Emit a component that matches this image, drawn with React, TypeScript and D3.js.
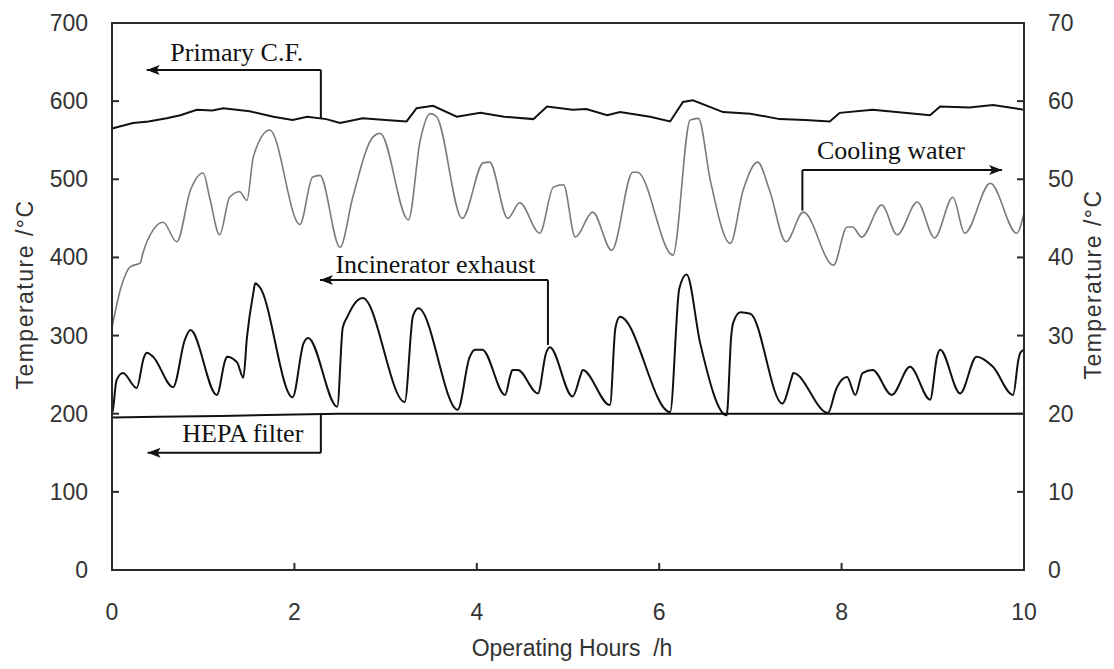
import React from 'react';
import * as d3 from 'd3';

// data (hours, °C)
const primaryHours = [0, 0.23, 0.4, 0.6, 0.75, 0.93, 1.1, 1.22, 1.51, 1.77, 1.98, 2.14, 2.35, 2.5, 2.75, 3.0, 3.23, 3.34, 3.52, 3.78, 4.04, 4.3, 4.62, 4.77, 5.05, 5.2, 5.43, 5.57, 5.9, 6.12, 6.26, 6.37, 6.7, 7.0, 7.32, 7.6, 7.87, 7.98, 8.34, 8.6, 8.97, 9.08, 9.4, 9.66, 10];
const primaryTemp = [565, 572, 574, 578, 582, 589, 588, 591, 587, 580, 576, 580, 577, 572, 578, 576, 574, 591, 594, 580, 585, 580, 577, 593, 589, 590, 582, 586, 580, 574, 599, 601, 586, 584, 577, 576, 574, 585, 589, 586, 582, 593, 592, 595, 589];

// cooling water is on the right axis (0-70)
const coolingHours = [0, 0.09, 0.2, 0.31, 0.34, 0.45, 0.56, 0.71, 0.86, 1.0, 1.07, 1.18, 1.29, 1.4, 1.48, 1.55, 1.73, 2.06, 2.2, 2.28, 2.5, 2.64, 2.86, 2.94, 3.25, 3.38, 3.49, 3.56, 3.84, 4.07, 4.14, 4.34, 4.47, 4.69, 4.84, 4.95, 5.08, 5.27, 5.48, 5.71, 5.76, 6.15, 6.34, 6.43, 6.56, 6.78, 6.92, 7.08, 7.21, 7.39, 7.58, 7.91, 8.06, 8.12, 8.22, 8.44, 8.61, 8.83, 9.02, 9.22, 9.35, 9.63, 9.92, 10];
const coolingTemp = [31, 35.8, 38.8, 39.3, 40.6, 43.5, 44.5, 42.0, 48.6, 50.8, 47.7, 42.9, 47.7, 48.4, 47.3, 52.9, 56.3, 44.2, 50.3, 50.5, 41.3, 47.7, 55.4, 55.9, 44.8, 55.0, 58.4, 58.0, 45.0, 52.1, 52.2, 45.0, 47.0, 43.1, 49.0, 49.3, 42.6, 45.8, 40.9, 50.9, 50.9, 40.3, 57.6, 57.8, 49.9, 41.8, 48.6, 52.2, 48.6, 42.0, 45.8, 39.0, 43.9, 43.9, 42.6, 46.7, 42.9, 47.1, 42.5, 47.7, 43.1, 49.5, 43.1, 45.7];

const exhaustHours = [0, 0.01, 0.05, 0.12, 0.27, 0.35, 0.38, 0.45, 0.67, 0.8, 0.86, 1.15, 1.24, 1.26, 1.37, 1.44, 1.48, 1.55, 1.57, 1.62, 1.98, 2.1, 2.15, 2.47, 2.53, 2.58, 2.69, 2.75, 3.21, 3.3, 3.36, 3.79, 3.92, 3.98, 4.06, 4.31, 4.37, 4.39, 4.45, 4.67, 4.76, 4.8, 5.05, 5.14, 5.16, 5.46, 5.52, 5.57, 6.12, 6.22, 6.3, 6.45, 6.74, 6.79, 6.81, 6.89, 7.0, 7.35, 7.45, 7.47, 7.85, 7.93, 7.95, 8.06, 8.15, 8.23, 8.34, 8.55, 8.75, 8.97, 9.05, 9.08, 9.3, 9.48, 9.66, 9.88, 9.94, 9.96, 10];
const exhaustTemp = [200, 205, 243, 252, 233, 272, 278, 273, 234, 295, 307, 224, 268, 273, 266, 246, 298, 355, 367, 362, 221, 290, 297, 209, 310, 324, 345, 348, 215, 325, 335, 205, 272, 282, 282, 224, 250, 256, 256, 226, 278, 285, 222, 250, 256, 211, 310, 324, 202, 360, 378, 290, 198, 300, 316, 330, 328, 213, 245, 252, 201, 228, 234, 247, 224, 252, 256, 224, 260, 218, 275, 282, 226, 273, 260, 224, 270, 278, 282];

const hepaHours = [0, 0.5, 1.2, 2.0, 2.5, 10];
const hepaTemp = [195, 196, 197, 199, 200, 200];

const xTicks = [0, 2, 4, 6, 8, 10];
const leftTicks = [0, 100, 200, 300, 400, 500, 600, 700];
const rightTicks = [0, 10, 20, 30, 40, 50, 60, 70];

const W = 1114;
const H = 669;
const margin = { top: 23, right: 90, bottom: 99, left: 112 };

const tickFont = '"Liberation Sans", Arial, sans-serif';
const noteFont = '"Liberation Serif", "Times New Roman", serif';
const ink = '#2a2a2a';

const App = () => {
  const x = d3.scaleLinear().domain([0, 10]).range([margin.left, W - margin.right]);
  const yL = d3.scaleLinear().domain([0, 700]).range([H - margin.bottom, margin.top]);
  const yR = d3.scaleLinear().domain([0, 70]).range([H - margin.bottom, margin.top]);

  const lineL = (hs: number[], vs: number[], curve: d3.CurveFactory = d3.curveLinear) =>
    d3.line<number>().x((_, i) => x(hs[i])).y((v) => yL(v)).curve(curve)(vs) || '';
  const lineR = d3.line<number>().x((_, i) => x(coolingHours[i])).y((v) => yR(v)).curve(d3.curveMonotoneX);

  const x0 = x(0), x1 = x(10), yb = yL(0), yt = yL(700);

  // filled arrowhead with its tip at (toX, yy), pointing away from fromX
  const arrowPath = (fromX: number, toX: number, yy: number) => {
    const d = toX < fromX ? 1 : -1;
    return `M${toX},${yy} L${toX + d * 13},${yy - 5} L${toX + d * 10},${yy} L${toX + d * 13},${yy + 5} Z`;
  };

  const notes = [
    { label: 'Primary C.F.', tx: x(0.64), ty: yL(651), lx: x(2.29), ay: yL(640), endY: yL(578), headX: x(0.38) },
    { label: 'Incinerator exhaust', tx: x(2.45), ty: yL(380), lx: x(4.78), ay: yL(371), endY: yL(288), headX: x(2.28) },
    { label: 'Cooling water', tx: x(7.73), ty: yR(52.6), lx: x(7.57), ay: yR(51.2), endY: yR(46), headX: x(9.76) },
  ];

  const hepa = { tx: x(0.77), ty: yL(164), lx: x(2.29), topY: yL(200), ay: yL(150), headX: x(0.39) };

  return (
    <svg width={W} height={H} style={{ position: 'absolute', left: 0, top: 0, background: '#fff' }}>
      {/* series */}
      <path d={lineR(coolingTemp) || ''} fill="none" stroke="#7a7a7a" strokeWidth={1.6} />
      <path d={lineL(primaryHours, primaryTemp)} fill="none" stroke="#111" strokeWidth={2} />
      <path d={lineL(exhaustHours, exhaustTemp, d3.curveMonotoneX)} fill="none" stroke="#111" strokeWidth={2} />
      <path d={lineL(hepaHours, hepaTemp)} fill="none" stroke="#111" strokeWidth={2} />

      {/* frame */}
      <rect x={x0} y={yt} width={x1 - x0} height={yb - yt} fill="none" stroke={ink} strokeWidth={2} />

      {/* left axis */}
      {leftTicks.map((t) => (
        <g key={'l' + t}>
          <line x1={x0} x2={x0 + 7} y1={yL(t)} y2={yL(t)} stroke={ink} strokeWidth={2} />
          <text x={x0 - 24} y={yL(t)} dy="0.35em" textAnchor="end" fontFamily={tickFont} fontSize={23} fill="#333">{t}</text>
        </g>
      ))}

      {/* right axis */}
      {rightTicks.map((t) => (
        <g key={'r' + t}>
          <line x1={x1} x2={x1 - 7} y1={yR(t)} y2={yR(t)} stroke={ink} strokeWidth={2} />
          <text x={x1 + 24} y={yR(t)} dy="0.35em" textAnchor="start" fontFamily={tickFont} fontSize={23} fill="#333">{t}</text>
        </g>
      ))}

      {/* bottom axis */}
      {xTicks.map((t) => (
        <g key={'x' + t}>
          <line x1={x(t)} x2={x(t)} y1={yb} y2={yb - 7} stroke={ink} strokeWidth={2} />
          <text x={x(t)} y={yb + 42} dy="0.35em" textAnchor="middle" fontFamily={tickFont} fontSize={23} fill="#333">{t}</text>
        </g>
      ))}

      {/* axis titles */}
      <text x={(x0 + x1) / 2 + 4} y={656} textAnchor="middle" fontFamily={tickFont} fontSize={23} fill="#333" style={{ whiteSpace: 'pre' }}>
        {'Operating Hours  /h'}
      </text>
      <text transform={`translate(33,${(yt + yb) / 2 - 2}) rotate(-90)`} textAnchor="middle" fontFamily={tickFont} fontSize={23} letterSpacing={1.5} fill="#333">
        Temperature /°C
      </text>
      <text transform={`translate(1101,${(yt + yb) / 2 - 12}) rotate(-90)`} textAnchor="middle" fontFamily={tickFont} fontSize={23} letterSpacing={1.5} fill="#333">
        Temperature /°C
      </text>

      {/* annotations */}
      {notes.map((n) => (
        <g key={n.label}>
          <text x={n.tx} y={n.ty} fontFamily={noteFont} fontSize={26} fill="#111">{n.label}</text>
          <line x1={n.lx} x2={n.headX} y1={n.ay} y2={n.ay} stroke="#111" strokeWidth={2} />
          <line x1={n.lx} x2={n.lx} y1={n.ay} y2={n.endY} stroke="#111" strokeWidth={2} />
          <path d={arrowPath(n.lx, n.headX, n.ay)} fill="#111" />
        </g>
      ))}
      <g>
        <text x={hepa.tx} y={hepa.ty} fontFamily={noteFont} fontSize={26} fill="#111">HEPA filter</text>
        <line x1={hepa.lx} x2={hepa.lx} y1={hepa.topY} y2={hepa.ay} stroke="#111" strokeWidth={2} />
        <line x1={hepa.lx} x2={hepa.headX} y1={hepa.ay} y2={hepa.ay} stroke="#111" strokeWidth={2} />
        <path d={arrowPath(hepa.lx, hepa.headX, hepa.ay)} fill="#111" />
      </g>
    </svg>
  );
};

export default App;
